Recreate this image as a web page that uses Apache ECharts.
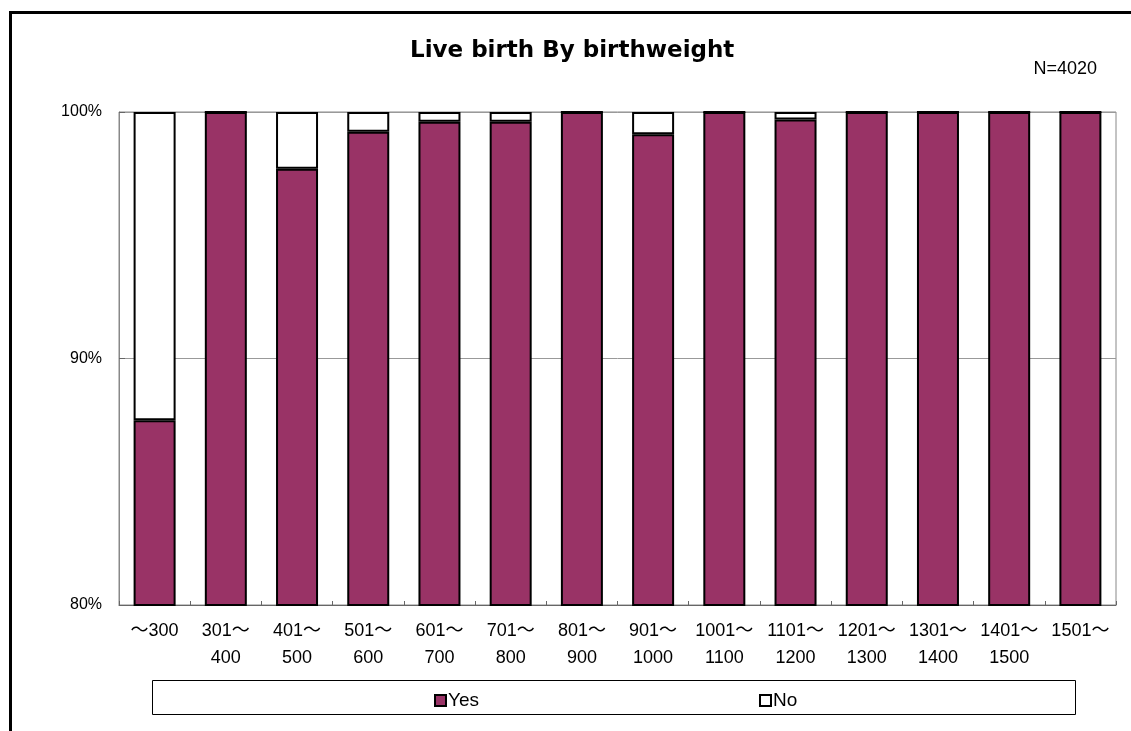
<!DOCTYPE html>
<html>
<head>
<meta charset="utf-8">
<script src="https://cdn.jsdelivr.net/npm/echarts@6/dist/echarts.min.js"></script>
<style>
  html, body { margin: 0; padding: 0; background: #fff; }
  #chart { width: 1131px; height: 731px; }
</style>
</head>
<body>
<div id="chart"></div>
<script>
// Birthweight classes (g)
const categories = ['～300', '301～\n400', '401～\n500', '501～\n600', '601～\n700', '701～\n800',
  '801～\n900', '901～\n1000', '1001～\n1100', '1101～\n1200', '1201～\n1300', '1301～\n1400',
  '1401～\n1500', '1501～'];
// Share of live births (%)
const yesValues = [87.5, 100, 97.7, 99.2, 99.6, 99.6, 100, 99.1, 100, 99.7, 100, 100, 100, 100];
const noValues  = [12.5, 0, 2.3, 0.8, 0.4, 0.4, 0, 0.9, 0, 0.3, 0, 0, 0, 0];
const yTicks = [80, 90, 100];

const FONT = '"Liberation Sans", "Noto Sans CJK JP", sans-serif';

const chart = echarts.init(document.getElementById('chart'), null, { renderer: 'canvas' });
chart.setOption({
  animation: false,
  backgroundColor: '#fff',
  textStyle: { fontFamily: FONT, color: '#000' },
  title: {
    text: 'Live birth By birthweight',
    left: 405,
    top: 35,
    textStyle: { fontFamily: '"DejaVu Sans", sans-serif', fontSize: 23, fontWeight: 'bold', color: '#000' }
  },
  graphic: [
    { type: 'rect', left: 8, top: 10, shape: { width: 1140, height: 740 },
      style: { fill: null, stroke: '#000', lineWidth: 3 }, silent: true },
    { type: 'text', right: 34, top: 60,
      style: { text: 'N=4020', fontFamily: FONT, fontSize: 18, fill: '#000' } },
    { type: 'rect', left: 150, top: 678, shape: { width: 923, height: 34 },
      style: { fill: null, stroke: '#000', lineWidth: 1 }, silent: true }
  ],
  legend: {
    data: ['Yes', 'No'],
    left: 429,
    top: 686,
    itemWidth: 11,
    itemHeight: 11,
    itemGap: 280,
    icon: 'rect',
    textStyle: { fontFamily: FONT, fontSize: 19, color: '#000', padding: [0, 0, 0, -3] },
    itemStyle: { borderColor: '#000', borderWidth: 2 }
  },
  grid: {
    left: 119, right: 15, top: 112, bottom: 126,
    show: true, borderColor: '#888', borderWidth: 1
  },
  xAxis: {
    type: 'category',
    data: categories,
    axisLine: { lineStyle: { color: '#666', width: 1 } },
    axisTick: { show: true, inside: true, length: 4, lineStyle: { color: '#666' } },
    axisLabel: { fontFamily: FONT, fontSize: 18, color: '#000', lineHeight: 27, margin: 13, interval: 0 }
  },
  yAxis: {
    type: 'value',
    min: yTicks[0], max: yTicks[yTicks.length - 1], interval: 10,
    axisLine: { show: true, lineStyle: { color: '#888' } },
    axisTick: { show: true, inside: true, length: 6, lineStyle: { color: '#666' } },
    splitLine: { show: true, lineStyle: { color: '#999', width: 1 } },
    axisLabel: { formatter: '{value}%', fontFamily: FONT, fontSize: 16, color: '#000', margin: 17 }
  },
  series: [
    { name: 'Yes', type: 'bar', stack: 'total', data: yesValues, barWidth: 42,
      itemStyle: { color: '#993366', borderColor: '#000', borderWidth: 2 } },
    { name: 'No', type: 'bar', stack: 'total', data: noValues, barWidth: 42,
      itemStyle: { color: '#fff', borderColor: '#000', borderWidth: 2 } }
  ]
});
</script>
</body>
</html>
